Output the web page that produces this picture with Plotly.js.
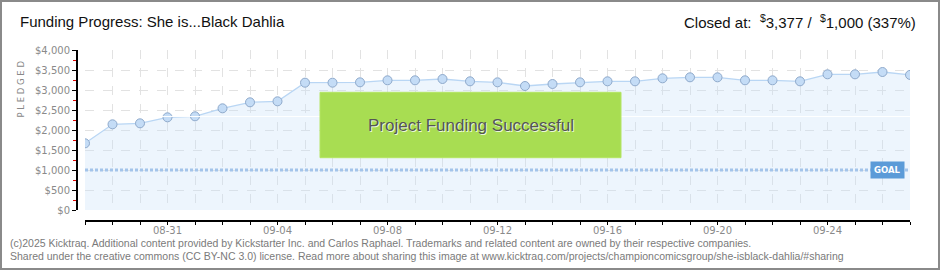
<!DOCTYPE html>
<html>
<head>
<meta charset="utf-8">
<script src="https://cdn.plot.ly/plotly-3.0.1.min.js"></script>
<style>
  html, body { margin: 0; padding: 0; background: #fff; }
  #wrap { position: relative; width: 940px; height: 270px; }
  #chart { width: 940px; height: 270px; }
  #frame { position: absolute; left: 0; top: 0; width: 940px; height: 270px; box-sizing: border-box;
           border: 2px solid #8a8a8a; pointer-events: none; }
</style>
</head>
<body>
<div id="wrap"><div id="chart"></div><div id="frame"></div></div>
<script>
// ---- data ----
const dates = [
  '2025-08-28','2025-08-29','2025-08-30','2025-08-31','2025-09-01','2025-09-02','2025-09-03',
  '2025-09-04','2025-09-05','2025-09-06','2025-09-07','2025-09-08','2025-09-09','2025-09-10',
  '2025-09-11','2025-09-12','2025-09-13','2025-09-14','2025-09-15','2025-09-16','2025-09-17',
  '2025-09-18','2025-09-19','2025-09-20','2025-09-21','2025-09-22','2025-09-23','2025-09-24',
  '2025-09-25','2025-09-26','2025-09-27'
];
const pledged = [
  1667, 2142, 2167, 2317, 2342, 2542, 2692,
  2717, 3183, 3183, 3192, 3242, 3242, 3275,
  3217, 3192, 3100, 3150, 3192, 3217, 3217,
  3292, 3317, 3317, 3242, 3242, 3217, 3392,
  3392, 3450, 3377
];
const goal = 1000;
const closedAt = '3,377';
const goalText = '1,000';
const percent = '337%';
const xTickVals = ['2025-08-31','2025-09-04','2025-09-08','2025-09-12','2025-09-16','2025-09-20','2025-09-24'];
const xTickText = ['08-31','09-04','09-08','09-12','09-16','09-20','09-24'];
const yTickVals = [0, 500, 1000, 1500, 2000, 2500, 3000, 3500, 4000];
const yTickText = ['$0','$500','$1,000','$1,500','$2,000','$2,500','$3,000','$3,500','$4,000'];
const titleText = 'Funding Progress: She is...Black Dahlia';
const footer1 = '(c)2025 Kicktraq. Additional content provided by Kickstarter Inc. and Carlos Raphael. Trademarks and related content are owned by their respective companies.';
const footer2 = 'Shared under the creative commons (CC BY-NC 3.0) license. Read more about sharing this image at www.kicktraq.com/projects/championcomicsgroup/she-isblack-dahlia/#sharing';

// ---- layout geometry ----
const W = 940, H = 270;
const M = { l: 76, r: 30, t: 50, b: 50 };
const PW = W - M.l - M.r, PH = H - M.t - M.b;
const px = x => (x - M.l) / PW;          // pixel -> paper x
const py = y => (H - M.b - y) / PH;      // pixel -> paper y
const xDomStart = px(85);
const yDomStart = py(210);

const FONT = "'Liberation Sans Narrow', 'Liberation Sans', Arial, sans-serif";
const TICKFONT = { family: "'DejaVu Sans', sans-serif", size: 10, color: '#8a8a8a' };
const GRID = '#e2e2e2';

const trace = {
  type: 'scatter', mode: 'lines+markers',
  x: dates, y: pledged,
  fill: 'tozeroy', fillcolor: 'rgba(200,224,250,0.33)',
  line: { color: '#b9d6f4', width: 1.3 },
  marker: { size: 9, color: '#c4dcf6', line: { color: '#8ea9cb', width: 1 } },
  hoverinfo: 'skip', showlegend: false
};

const layout = {
  width: W, height: H,
  margin: M,
  paper_bgcolor: '#fff', plot_bgcolor: '#fff',
  showlegend: false,
  title: {
    text: titleText, x: 20 / W, xanchor: 'left', xref: 'container',
    y: 1 - 22 / H, yanchor: 'middle', yref: 'container',
    font: { family: FONT, size: 15, color: '#111' }
  },
  xaxis: {
    type: 'date', domain: [xDomStart, 1], anchor: 'free', position: 0,
    range: [dates[0], dates[dates.length - 1]],
    tickmode: 'array', tickvals: xTickVals, ticktext: xTickText,
    ticks: 'outside', ticklen: 3, tickcolor: '#000', tickwidth: 1,
    ticklabelstandoff: -3,
    showline: true, linecolor: '#000', linewidth: 1.5,
    showgrid: true, gridcolor: GRID, griddash: 'dash', gridwidth: 1,
    zeroline: false, tickfont: TICKFONT,
    minor: { tickmode: 'array', tickvals: dates, ticks: 'outside', ticklen: 3, tickcolor: '#000',
             showgrid: true, gridcolor: GRID, griddash: 'dash' },
    fixedrange: true
  },
  yaxis: {
    domain: [yDomStart, 1], anchor: 'free', position: 0,
    range: [0, 4000],
    tickmode: 'array', tickvals: yTickVals, ticktext: yTickText,
    ticks: 'outside', ticklen: 4, tickcolor: '#000', tickwidth: 1,
    showline: true, linecolor: '#000', linewidth: 1.5,
    showgrid: true, gridcolor: GRID, griddash: 'dash',
    zeroline: false, tickfont: TICKFONT,
    minor: { dtick: 250, ticks: 'outside', ticklen: 3, tickcolor: '#e00000', showgrid: false },
    fixedrange: true
  },
  shapes: [
    { type: 'line', xref: 'paper', yref: 'paper', x0: xDomStart, x1: 1, y0: py(116.5), y1: py(116.5),
      line: { color: 'rgba(255,255,255,0.95)', width: 1 } },
    { type: 'line', xref: 'paper', yref: 'y', x0: xDomStart, x1: 1, y0: goal, y1: goal,
      line: { color: '#a3c4ea', width: 3, dash: '3px,2px' } },
    { type: 'rect', xref: 'paper', yref: 'paper', x0: px(320), x1: px(621), y0: py(157.7), y1: py(92.3),
      fillcolor: '#a8dd52', line: { color: '#b4e562', width: 1 } }
  ],
  annotations: [
    { xref: 'paper', yref: 'paper', x: 1.0096, y: py(22), xanchor: 'right', yanchor: 'middle',
      showarrow: false, font: { family: FONT, size: 15, color: '#111' },
      text: 'Closed at:  <sup>$</sup>' + closedAt + ' /  <sup>$</sup>' + goalText + ' (' + percent + ')' },
    { xref: 'paper', yref: 'paper', x: px(20), y: py(89.5), textangle: -90, xanchor: 'center', yanchor: 'middle',
      showarrow: false, text: 'P L E D G E D', font: { family: "'DejaVu Sans', sans-serif", size: 8.5, color: '#888' } },
    { xref: 'paper', yref: 'paper', x: px(470.5), y: py(125), xanchor: 'center', yanchor: 'middle',
      showarrow: false, text: 'Project Funding Successful',
      font: { family: FONT, size: 17, color: '#555', shadow: '1px 1px 0px rgba(255,255,255,0.8)' } },
    { xref: 'paper', yref: 'y', x: px(887.5), y: goal, xanchor: 'center', yanchor: 'middle',
      showarrow: false, text: '<b>GOAL</b>', bgcolor: '#5b9bd8', borderpad: 3,
      font: { family: "'DejaVu Sans', sans-serif", size: 8.5, color: '#fff' } },
    { xref: 'paper', yref: 'paper', x: px(8), y: py(243), xanchor: 'left', yanchor: 'middle',
      showarrow: false, text: footer1, font: { family: FONT, size: 10.5, color: '#7a7a7a' } },
    { xref: 'paper', yref: 'paper', x: px(8), y: py(256), xanchor: 'left', yanchor: 'middle',
      showarrow: false, text: footer2, font: { family: FONT, size: 10.5, color: '#7a7a7a' } }
  ]
};

Plotly.newPlot('chart', [trace], layout, { displayModeBar: false, staticPlot: true });
</script>
</body>
</html>
